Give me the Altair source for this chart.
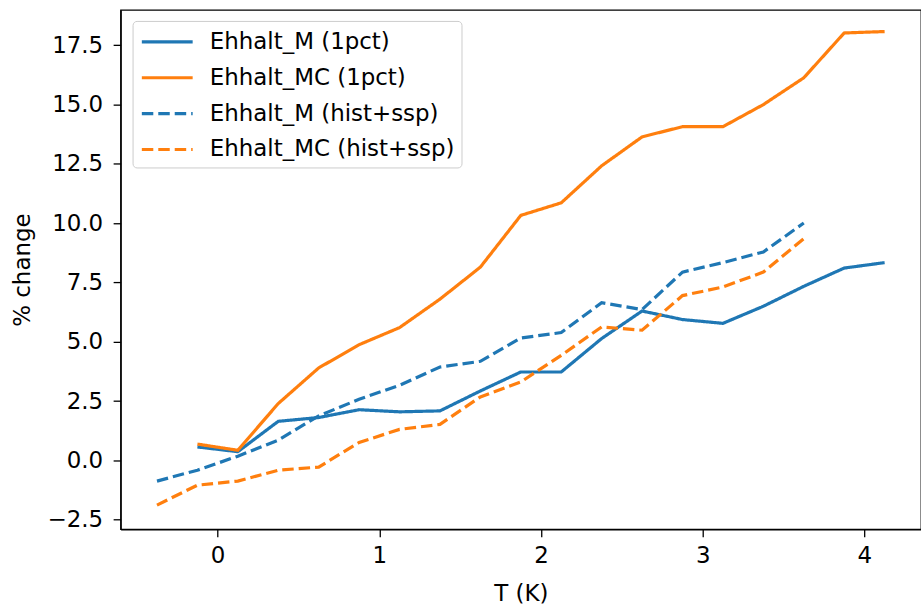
import altair as alt
import pandas as pd

# Temperature bins (K)
x_1pct = [-0.125, 0.125, 0.375, 0.625, 0.875, 1.125, 1.375, 1.625, 1.875, 2.125,
          2.375, 2.625, 2.875, 3.125, 3.375, 3.625, 3.875, 4.125]
x_hist = [-0.375, -0.125, 0.125, 0.375, 0.625, 0.875, 1.125, 1.375, 1.625, 1.875,
          2.125, 2.375, 2.625, 2.875, 3.125, 3.375, 3.625]

m_1pct = [0.57, 0.37, 1.65, 1.81, 2.14, 2.05, 2.09, 2.93, 3.73, 3.73,
          5.14, 6.30, 5.94, 5.78, 6.50, 7.34, 8.11, 8.34]
mc_1pct = [0.69, 0.43, 2.40, 3.90, 4.88, 5.60, 6.80, 8.15, 10.33, 10.86,
           12.42, 13.64, 14.07, 14.07, 15.00, 16.13, 18.02, 18.08]
m_hist = [-0.87, -0.41, 0.18, 0.86, 1.88, 2.58, 3.17, 3.94, 4.18, 5.16,
          5.39, 6.65, 6.36, 7.94, 8.34, 8.79, 10.01]
mc_hist = [-1.88, -1.04, -0.87, -0.41, -0.28, 0.76, 1.31, 1.52, 2.68, 3.31,
           4.43, 5.63, 5.49, 6.95, 7.31, 7.94, 9.35]

series_names = ["Ehhalt_M (1pct)", "Ehhalt_MC (1pct)",
                "Ehhalt_M (hist+ssp)", "Ehhalt_MC (hist+ssp)"]
x_ticks = [0, 1, 2, 3, 4]
y_ticks = [-2.5, 0.0, 2.5, 5.0, 7.5, 10.0, 12.5, 15.0, 17.5]

rows = []
for name, xs, ys in zip(series_names, [x_1pct, x_1pct, x_hist, x_hist],
                        [m_1pct, mc_1pct, m_hist, mc_hist]):
    for i, (xv, yv) in enumerate(zip(xs, ys)):
        rows.append({"series": name, "T": xv, "pct": yv, "i": i})
df = pd.DataFrame(rows)

font = "DejaVu Sans"
fs = 23

chart = alt.Chart(df).mark_line(strokeWidth=3.2, clip=True).encode(
    x=alt.X("T:Q", title="T (K)",
            scale=alt.Scale(domain=[-0.6, 4.35], nice=False, zero=False),
            axis=alt.Axis(values=x_ticks, format="d", labelPadding=7.5, titlePadding=15)),
    y=alt.Y("pct:Q", title="% change",
            scale=alt.Scale(domain=[-2.90, 18.99], nice=False, zero=False),
            axis=alt.Axis(values=y_ticks, format=".1f", labelPadding=10.5, titlePadding=13)),
    color=alt.Color("series:N", title=None,
                    scale=alt.Scale(domain=series_names,
                                    range=["#1f77b4", "#ff7f0e", "#1f77b4", "#ff7f0e"]),
                    legend=alt.Legend(orient="none", legendX=12, legendY=11,
                                      symbolType="M-0.885,0H2.97", symbolSize=700,
                                      symbolStrokeWidth=3.2, labelFontSize=fs,
                                      labelFont=font, labelColor="black",
                                      labelOffset=41.5, padding=6, rowPadding=9,
                                      strokeColor="#cccccc", fillColor="white",
                                      cornerRadius=4, labelLimit=400)),
    strokeDash=alt.StrokeDash("series:N",
                              scale=alt.Scale(domain=series_names,
                                              range=[[1, 0], [1, 0], [11.5, 5], [11.5, 5]]),
                              legend=None),
    order="i:Q",
).properties(
    width=803, height=521,
    autosize=alt.AutoSizeParams(type="none"),
    padding={"left": 121, "top": 9, "right": 0, "bottom": 77},
).configure_view(
    stroke="black", strokeWidth=1.3
).configure_axis(
    grid=False, labelFont=font, titleFont=font, labelFontSize=fs, titleFontSize=fs,
    titleFontWeight="normal", labelColor="black", titleColor="black",
    domainColor="black", domainWidth=1.3, tickColor="black", tickWidth=1.3,
    tickSize=7.5,
)

chart.save("out.html", embed_options={"renderer": "svg", "actions": False})
